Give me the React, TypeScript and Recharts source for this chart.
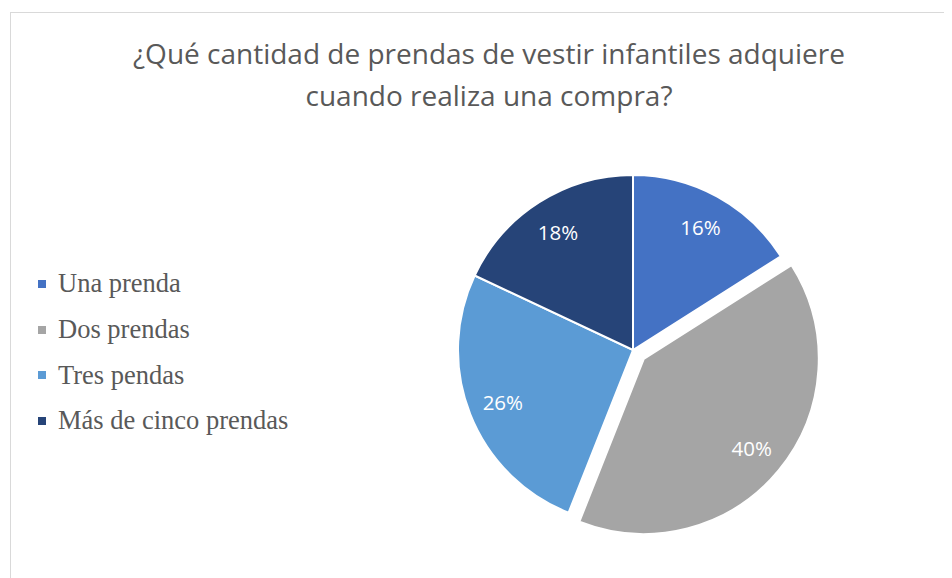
import { PieChart, Pie, Cell } from 'recharts'

const categories = ['Una prenda', 'Dos prendas', 'Tres pendas', 'Más de cinco prendas']
const shares = [16, 40, 26, 18]
const colors = ['#4472C4', '#A5A5A5', '#5B9BD5', '#264478']
const explodedIndex = 1

const data = categories.map((name, i) => ({ name, value: shares[i] }))

const RADIAN = Math.PI / 180

const renderLabel = (onlyIndex: number | null) => (props: any) => {
  const { cx, cy, midAngle, outerRadius, index, value } = props
  const show = onlyIndex === null ? index !== explodedIndex : index === onlyIndex
  if (!show) return null
  const r = outerRadius * 0.8
  const x = cx + r * Math.cos(-midAngle * RADIAN)
  const y = cy + r * Math.sin(-midAngle * RADIAN)
  return (
    <text
      x={x}
      y={y}
      fill="#ffffff"
      fontSize={20.5}
      fontFamily="'Open Sans', sans-serif"
      textAnchor="middle"
      dominantBaseline="central"
    >
      {`${value}%`}
    </text>
  )
}

const LegendBlock = () => (
  <div
    style={{
      position: 'absolute',
      left: 38,
      top: 261,
      fontFamily: "'Liberation Serif', serif",
      fontSize: 26.5,
      color: '#595959',
    }}
  >
    {data.map((d, i) => (
      <div key={d.name} style={{ display: 'flex', alignItems: 'center', height: 45.7 }}>
        <span
          style={{ width: 8, height: 8, background: colors[i], display: 'inline-block', marginRight: 12 }}
        />
        <span>{d.name}</span>
      </div>
    ))}
  </div>
)

export default function App() {
  const cx = 633
  const cy = 350
  // the "Dos prendas" slice is pulled out along its mid angle
  const mid = (16 + 20) / 100 * 360
  const dx = 14 * Math.sin(mid * RADIAN)
  const dy = -14 * Math.cos(mid * RADIAN)

  return (
    <div style={{ position: 'relative', width: 952, height: 578, marginLeft: -8, marginTop: -8, overflow: 'hidden', background: '#fff' }}>
      <div
        style={{
          position: 'absolute',
          left: 10,
          top: 12,
          width: 980,
          height: 620,
          border: '1px solid #d9d9d9',
        }}
      />
      <div
        style={{
          position: 'absolute',
          left: 0,
          top: 32,
          width: 978,
          textAlign: 'center',
          fontFamily: "'Open Sans', sans-serif",
          fontSize: 28,
          lineHeight: '42px',
          color: '#595959',
        }}
      >
        ¿Qué cantidad de prendas de vestir infantiles adquiere
        <br />
        cuando realiza una compra?
      </div>
      <LegendBlock />
      <PieChart
        width={952}
        height={578}
        margin={{ top: 0, right: 0, bottom: 0, left: 0 }}
        style={{ position: 'absolute', left: 0, top: 0 }}
      >
        <Pie
          data={data}
          dataKey="value"
          nameKey="name"
          cx={cx}
          cy={cy}
          outerRadius={175}
          startAngle={90}
          endAngle={-270}
          stroke="#ffffff"
          strokeWidth={2}
          labelLine={false}
          label={renderLabel(null)}
          isAnimationActive={false}
        >
          {data.map((d, i) => (
            <Cell key={d.name} fill={i === explodedIndex ? 'transparent' : colors[i]} stroke={i === explodedIndex ? 'none' : '#ffffff'} />
          ))}
        </Pie>
        <Pie
          data={data}
          dataKey="value"
          nameKey="name"
          cx={cx + dx}
          cy={cy + dy}
          outerRadius={175}
          startAngle={90}
          endAngle={-270}
          stroke="#ffffff"
          strokeWidth={2}
          labelLine={false}
          label={renderLabel(explodedIndex)}
          isAnimationActive={false}
        >
          {data.map((d, i) => (
            <Cell key={d.name} fill={i === explodedIndex ? colors[i] : 'transparent'} stroke={i === explodedIndex ? '#ffffff' : 'none'} />
          ))}
        </Pie>
      </PieChart>
    </div>
  )
}
